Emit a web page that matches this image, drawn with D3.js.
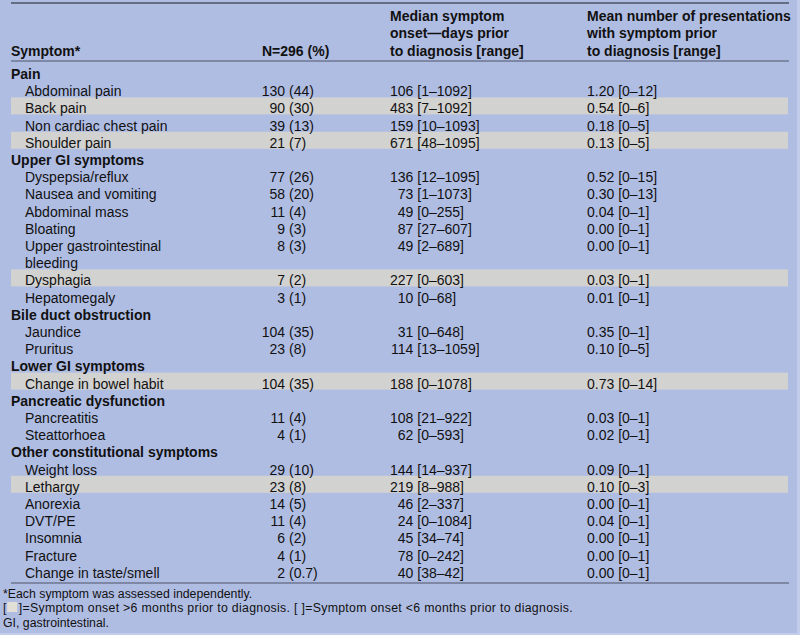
<!DOCTYPE html>
<html><head><meta charset="utf-8">
<script src="https://cdn.jsdelivr.net/npm/d3@7"></script>
<style>
html,body{margin:0;padding:0;background:#b0bde3;}
svg{display:block;font-family:"Liberation Sans",Arial,Helvetica,sans-serif;}
</style></head>
<body><svg id="chart" width="800" height="635"></svg>
<script>
// ---- data ----
const columns = ["Symptom*", "N=296 (%)", "Median symptom|onset\u2014days prior|to diagnosis [range]", "Mean number of presentations|with symptom prior|to diagnosis [range]"];
const groups = ["Pain", "Upper GI symptoms", "Bile duct obstruction", "Lower GI symptoms", "Pancreatic dysfunction", "Other constitutional symptoms"];
const symptomGroup = [0,0,0,0,1,1,1,1,1,1,1,2,2,3,4,4,5,5,5,5,5,5,5];
const symptoms = ["Abdominal pain","Back pain","Non cardiac chest pain","Shoulder pain","Dyspepsia/reflux","Nausea and vomiting","Abdominal mass","Bloating","Upper gastrointestinal|bleeding","Dysphagia","Hepatomegaly","Jaundice","Pruritus","Change in bowel habit","Pancreatitis","Steattorhoea","Weight loss","Lethargy","Anorexia","DVT/PE","Insomnia","Fracture","Change in taste/smell"];
const counts = [130,90,39,21,77,58,11,9,8,7,3,104,23,104,11,4,29,23,14,11,6,4,2];
const percents = ["44","30","13","7","26","20","4","3","3","2","1","35","8","35","4","1","10","8","5","4","2","1","0.7"];
const medianDays = [106,483,159,671,136,73,49,87,49,227,10,31,114,188,108,62,144,219,46,24,45,78,40];
const medianMin = [1,7,10,48,12,1,0,27,2,0,0,0,13,0,21,0,14,8,2,0,34,0,38];
const medianMax = [1092,1092,1093,1095,1095,1073,255,607,689,603,68,648,1059,1078,922,593,937,988,337,1084,74,242,42];
const meanPresentations = ["1.20","0.54","0.18","0.13","0.52","0.30","0.04","0.00","0.00","0.03","0.01","0.35","0.10","0.73","0.03","0.02","0.09","0.10","0.00","0.04","0.00","0.00","0.00"];
const meanMin = [0,0,0,0,0,0,0,0,0,0,0,0,0,0,0,0,0,0,0,0,0,0,0];
const meanMax = [12,6,5,5,15,13,1,1,1,1,1,1,5,14,1,1,1,3,1,1,1,1,1];
const footnotes = ["*Each symptom was assessed independently.", "GI, gastrointestinal."];
const legendText = ["]=Symptom onset >6 months prior to diagnosis.", "[ ]=Symptom onset <6 months prior to diagnosis."];
const sixMonthsDays = 182.5;

// ---- layout ----
const svg = d3.select("#chart");
const W = 800, H = 635;
const left = 11, right = 789;
const colX = {sym: 11, sub: 25, countEnd: 285, pct: 289, medEnd: 413.4, medRange: 417.3, mean: 587};
const fs = 14;
const ink = "#111";
const ruleColor = "#4c5366";
const bandColor = "#d2d2d1";

// build line list
const lines = [];
let g = -1;
symptoms.forEach((s, i) => {
  if (symptomGroup[i] !== g) { g = symptomGroup[i]; lines.push({type: "group", label: groups[g]}); }
  const parts = s.split("|");
  lines.push({type: "row", idx: i, label: parts[0], span: parts.length});
  for (let k = 1; k < parts.length; k++) lines.push({type: "cont", label: parts[k]});
});
const y = d3.scaleLinear().domain([0, lines.length - 1]).range([79, 577.8]);

// page background and edges
svg.append("rect").attr("x", 0).attr("y", 0).attr("width", W).attr("height", H).attr("fill", "#b0bde3");
svg.append("rect").attr("x", W - 3).attr("y", 0).attr("width", 3).attr("height", H).attr("fill", "#c3cdeb");
svg.append("rect").attr("x", 0).attr("y", H - 2).attr("width", W).attr("height", 2).attr("fill", "#c3cdeb");

// shaded bands for symptoms with onset > 6 months
lines.forEach((l, li) => {
  if (l.type === "row" && medianDays[l.idx] > sixMonthsDays) {
    svg.append("rect").attr("x", left).attr("y", y(li) - 16)
      .attr("width", right - 1 - left).attr("height", 17).attr("fill", bandColor);
  }
});

// rules
svg.append("line").attr("x1", left).attr("x2", right).attr("y1", 3).attr("y2", 3).attr("stroke", ruleColor).attr("stroke-width", 1.6);
svg.append("line").attr("x1", left).attr("x2", right).attr("y1", 61).attr("y2", 61).attr("stroke", ruleColor).attr("stroke-width", 1.2);
svg.append("line").attr("x1", left).attr("x2", right).attr("y1", 583).attr("y2", 583).attr("stroke", ruleColor).attr("stroke-width", 1.2);

// header
const hx = [colX.sym, 262, 390, colX.mean];
columns.forEach((c, ci) => {
  const parts = c.split("|");
  const base = 56 - (parts.length - 1) * 17.6;
  parts.forEach((p, k) => {
    svg.append("text").attr("x", hx[ci]).attr("y", base + k * 17.6)
      .attr("font-size", fs).attr("font-weight", "bold").attr("fill", ink).text(p);
  });
});

// body
lines.forEach((l, li) => {
  const yy = y(li);
  if (l.type === "group") {
    svg.append("text").attr("x", colX.sym).attr("y", yy).attr("font-size", fs).attr("font-weight", "bold").attr("fill", ink).text(l.label);
  } else if (l.type === "cont") {
    svg.append("text").attr("x", colX.sub).attr("y", yy).attr("font-size", fs).attr("fill", ink).text(l.label);
  } else {
    const i = l.idx;
    svg.append("text").attr("x", colX.sub).attr("y", yy).attr("font-size", fs).attr("fill", ink).text(l.label);
    svg.append("text").attr("x", colX.countEnd).attr("y", yy).attr("font-size", fs).attr("fill", ink).attr("text-anchor", "end").text(counts[i]);
    svg.append("text").attr("x", colX.pct).attr("y", yy).attr("font-size", fs).attr("fill", ink).text("(" + percents[i] + ")");
    svg.append("text").attr("x", colX.medEnd).attr("y", yy).attr("font-size", fs).attr("fill", ink).attr("text-anchor", "end").text(medianDays[i]);
    svg.append("text").attr("x", colX.medRange).attr("y", yy).attr("font-size", fs).attr("fill", ink).text("[" + medianMin[i] + "\u2013" + medianMax[i] + "]");
    svg.append("text").attr("x", colX.mean).attr("y", yy).attr("font-size", fs).attr("fill", ink).text(meanPresentations[i] + " [" + meanMin[i] + "\u2013" + meanMax[i] + "]");
  }
});

// footnotes
const ffs = 12.3, fx = 3;
svg.append("text").attr("x", fx).attr("y", 597.5).attr("font-size", ffs).attr("fill", ink).text(footnotes[0]);
const boxRect = svg.append("rect").attr("y", 602).attr("width", 10).attr("height", 10).attr("fill", "#e2dfd6");
const f2 = svg.append("text").attr("x", fx).attr("y", 612).attr("font-size", ffs).attr("fill", ink);
const t0 = f2.append("tspan").text("[");
f2.append("tspan").attr("dx", 12).text(legendText[0] + " " + legendText[1]);
const bw = t0.node().getComputedTextLength();
boxRect.attr("x", fx + bw + 0.8);
// spread letters slightly so the line spans like the reference (ends near x=573)
const curLen = f2.node().getComputedTextLength() + 12;
const nChars = (legendText[0] + " " + legendText[1]).length + 1;
f2.attr("letter-spacing", Math.max(0, (573 - fx - curLen) / nChars));
svg.append("text").attr("x", fx).attr("y", 626.5).attr("font-size", ffs).attr("fill", ink).text(footnotes[1]);
</script></body></html>
